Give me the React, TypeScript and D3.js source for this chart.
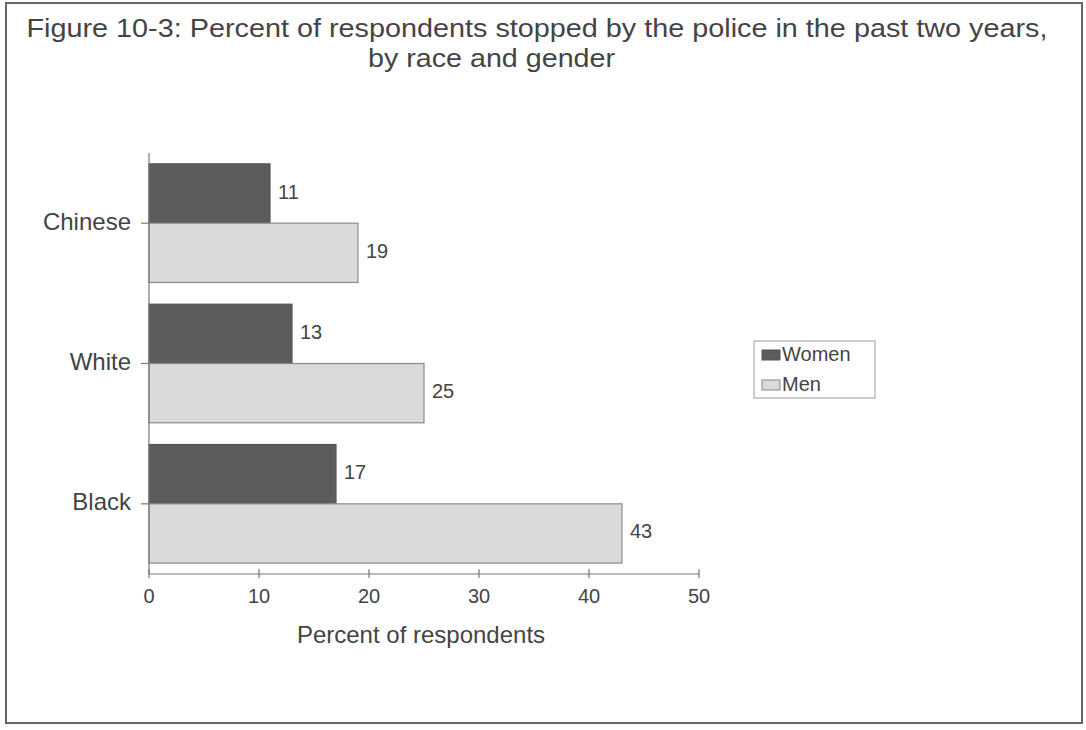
import React from "react";
import * as d3 from "d3";

const categories = ["Chinese", "White", "Black"];
const seriesNames = ["Women", "Men"];
const women = [11, 13, 17];
const men = [19, 25, 43];
const xTicks = [0, 10, 20, 30, 40, 50];

const titleLines = [
  "Figure 10-3: Percent of respondents stopped by the police in the past two years,",
  "by race and gender",
];
const xLabel = "Percent of respondents";

const W = 1086;
const H = 730;
const FONT = "'Liberation Sans', Arial, Helvetica, sans-serif";
const TEXT = "#444";
const WOMEN_FILL = "#5c5c5c";
const MEN_FILL = "#dadada";
const colors = [WOMEN_FILL, MEN_FILL];

export default function App() {
  const x = d3.scaleLinear().domain([0, 50]).range([149, 699]);
  const y = d3
    .scaleBand<string>()
    .domain(categories)
    .range([153, 574])
    .paddingInner(0.155)
    .paddingOuter(0.0775);
  const sub = d3.scaleBand<string>().domain(seriesNames).range([0, y.bandwidth()]).padding(0);
  const series = [women, men];
  const axisY = 574;

  return (
    <svg
      width={W}
      height={H}
      style={{ position: "absolute", left: 0, top: 0, background: "#fff" }}
      fontFamily={FONT}
    >
      <rect x={6} y={3} width={1076} height={720} fill="none" stroke="#666" strokeWidth={2} />
      <text x={537} y={37} textAnchor="middle" fontSize={26} fill={TEXT} textLength={1021} lengthAdjust="spacingAndGlyphs">
        {titleLines[0]}
      </text>
      <text x={368} y={67} textAnchor="start" fontSize={26} fill={TEXT} textLength={247} lengthAdjust="spacingAndGlyphs">
        {titleLines[1]}
      </text>

      {/* bars */}
      {categories.map((c, i) =>
        seriesNames.map((s, j) => {
          const v = series[j][i];
          const by = (y(c) as number) + (sub(s) as number);
          const bh = sub.bandwidth();
          return (
            <g key={c + s}>
              <rect
                x={x(0)}
                y={by}
                width={x(v) - x(0)}
                height={bh}
                fill={colors[j]}
                stroke={j === 0 ? "#555" : "#8a8a8a"}
                strokeWidth={1.2}
              />
              <text
                x={x(v) + 8}
                y={by + bh / 2 - 2}
                dominantBaseline="central"
                fontSize={20}
                fill={TEXT}
              >
                {v}
              </text>
            </g>
          );
        })
      )}

      {/* y axis */}
      <line x1={x(0)} x2={x(0)} y1={153} y2={axisY} stroke="#777" strokeWidth={1.2} />
      {categories.map((c) => {
        const cy = (y(c) as number) + y.bandwidth() / 2;
        return (
          <g key={c}>
            <line x1={x(0) - 8} x2={x(0)} y1={cy} y2={cy} stroke="#777" strokeWidth={1.2} />
            <text x={131} y={cy - 2} textAnchor="end" dominantBaseline="central" fontSize={24} fill={TEXT}>
              {c}
            </text>
          </g>
        );
      })}

      {/* x axis */}
      <line x1={x(0)} x2={x(50)} y1={axisY} y2={axisY} stroke="#777" strokeWidth={1.2} />
      {xTicks.map((t) => (
        <g key={t}>
          <line x1={x(t)} x2={x(t)} y1={axisY - 5} y2={axisY + 4} stroke="#777" strokeWidth={1.2} />
          <text x={x(t)} y={596} textAnchor="middle" dominantBaseline="central" fontSize={20} fill={TEXT}>
            {t}
          </text>
        </g>
      ))}
      <text x={421} y={643} textAnchor="middle" fontSize={24} fill={TEXT}>
        {xLabel}
      </text>

      {/* legend */}
      <rect x={754} y={341} width={121} height={57} fill="#fff" stroke="#999" strokeWidth={1} />
      {seriesNames.map((s, j) => {
        const ly = 354 + j * 30;
        return (
          <g key={s}>
            <rect x={762} y={ly - 4} width={18} height={10} fill={colors[j]} stroke={j === 0 ? "#555" : "#888"} strokeWidth={1} />
            <text x={782} y={ly} dominantBaseline="central" fontSize={20} fill={TEXT}>
              {s}
            </text>
          </g>
        );
      })}
    </svg>
  );
}
